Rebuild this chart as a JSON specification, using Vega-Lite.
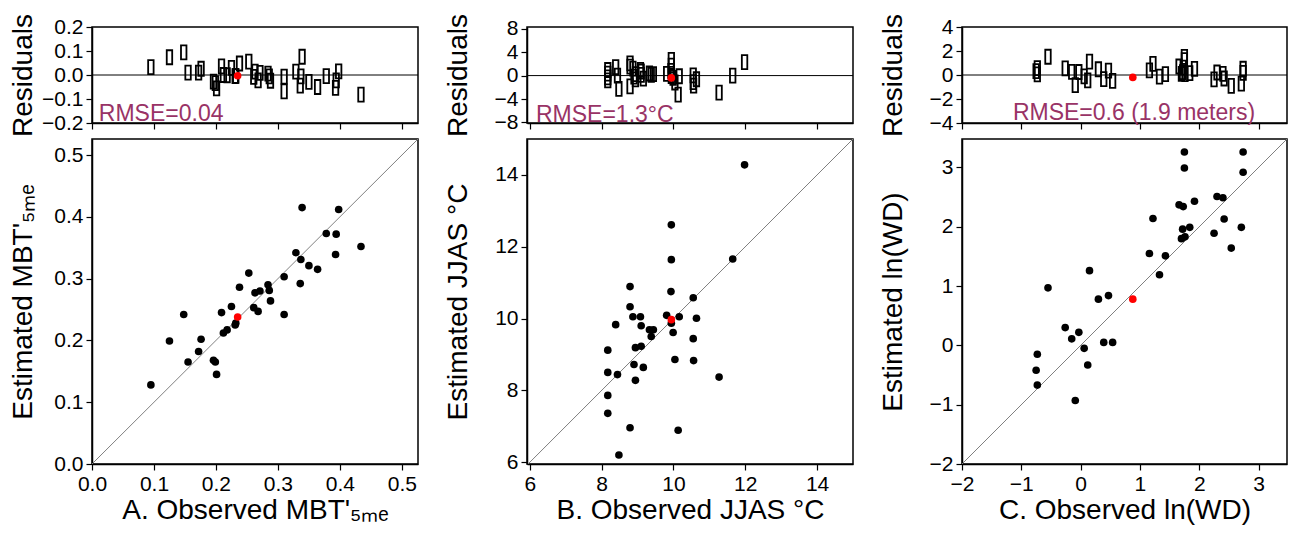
{
  "$schema": "https://vega.github.io/schema/vega-lite/v6.json",
  "padding": {"left": 8, "top": 12, "right": 5, "bottom": 5},
  "background": "white",
  "datasets": {
    "A": [
      {"obs": 0.095, "est": 0.128, "res": 0.033, "kind": "sample"},
      {"obs": 0.125, "est": 0.199, "res": 0.074, "kind": "sample"},
      {"obs": 0.148, "est": 0.242, "res": 0.094, "kind": "sample"},
      {"obs": 0.155, "est": 0.165, "res": 0.010, "kind": "sample"},
      {"obs": 0.172, "est": 0.182, "res": 0.010, "kind": "sample"},
      {"obs": 0.176, "est": 0.202, "res": 0.026, "kind": "sample"},
      {"obs": 0.196, "est": 0.168, "res": -0.028, "kind": "sample"},
      {"obs": 0.199, "est": 0.165, "res": -0.034, "kind": "sample"},
      {"obs": 0.201, "est": 0.145, "res": -0.056, "kind": "sample"},
      {"obs": 0.209, "est": 0.245, "res": 0.036, "kind": "sample"},
      {"obs": 0.212, "est": 0.212, "res": 0.000, "kind": "sample"},
      {"obs": 0.218, "est": 0.217, "res": -0.001, "kind": "sample"},
      {"obs": 0.225, "est": 0.255, "res": 0.030, "kind": "sample"},
      {"obs": 0.231, "est": 0.225, "res": -0.005, "kind": "sample"},
      {"obs": 0.232, "est": 0.228, "res": -0.004, "kind": "sample"},
      {"obs": 0.238, "est": 0.286, "res": 0.048, "kind": "sample"},
      {"obs": 0.253, "est": 0.309, "res": 0.056, "kind": "sample"},
      {"obs": 0.261, "est": 0.253, "res": -0.008, "kind": "sample"},
      {"obs": 0.263, "est": 0.277, "res": 0.014, "kind": "sample"},
      {"obs": 0.268, "est": 0.247, "res": -0.022, "kind": "sample"},
      {"obs": 0.271, "est": 0.280, "res": 0.009, "kind": "sample"},
      {"obs": 0.284, "est": 0.290, "res": 0.006, "kind": "sample"},
      {"obs": 0.286, "est": 0.281, "res": -0.006, "kind": "sample"},
      {"obs": 0.288, "est": 0.264, "res": -0.024, "kind": "sample"},
      {"obs": 0.310, "est": 0.303, "res": -0.007, "kind": "sample"},
      {"obs": 0.310, "est": 0.242, "res": -0.068, "kind": "sample"},
      {"obs": 0.329, "est": 0.342, "res": 0.014, "kind": "sample"},
      {"obs": 0.336, "est": 0.292, "res": -0.044, "kind": "sample"},
      {"obs": 0.337, "est": 0.331, "res": -0.006, "kind": "sample"},
      {"obs": 0.339, "est": 0.415, "res": 0.076, "kind": "sample"},
      {"obs": 0.350, "est": 0.321, "res": -0.029, "kind": "sample"},
      {"obs": 0.364, "est": 0.315, "res": -0.050, "kind": "sample"},
      {"obs": 0.378, "est": 0.373, "res": -0.005, "kind": "sample"},
      {"obs": 0.393, "est": 0.339, "res": -0.054, "kind": "sample"},
      {"obs": 0.394, "est": 0.372, "res": -0.022, "kind": "sample"},
      {"obs": 0.398, "est": 0.412, "res": 0.015, "kind": "sample"},
      {"obs": 0.434, "est": 0.352, "res": -0.082, "kind": "sample"},
      {"obs": 0.235, "est": 0.238, "res": -0.003, "kind": "ref"}
    ],
    "B": [
      {"obs": 11.98, "est": 14.28, "res": 2.30, "kind": "sample"},
      {"obs": 9.94, "est": 12.61, "res": 2.67, "kind": "sample"},
      {"obs": 9.94, "est": 11.64, "res": 1.70, "kind": "sample"},
      {"obs": 11.65, "est": 11.66, "res": 0.01, "kind": "sample"},
      {"obs": 8.79, "est": 10.89, "res": 2.10, "kind": "sample"},
      {"obs": 9.93, "est": 10.75, "res": 0.82, "kind": "sample"},
      {"obs": 10.55, "est": 10.58, "res": 0.03, "kind": "sample"},
      {"obs": 8.79, "est": 10.33, "res": 1.54, "kind": "sample"},
      {"obs": 8.87, "est": 10.05, "res": 1.18, "kind": "sample"},
      {"obs": 9.08, "est": 10.05, "res": 0.97, "kind": "sample"},
      {"obs": 9.81, "est": 10.09, "res": 0.28, "kind": "sample"},
      {"obs": 10.16, "est": 10.05, "res": -0.11, "kind": "sample"},
      {"obs": 10.64, "est": 10.01, "res": -0.63, "kind": "sample"},
      {"obs": 9.94, "est": 9.87, "res": -0.07, "kind": "sample"},
      {"obs": 8.39, "est": 9.83, "res": 1.44, "kind": "sample"},
      {"obs": 9.10, "est": 9.80, "res": 0.70, "kind": "sample"},
      {"obs": 9.33, "est": 9.69, "res": 0.36, "kind": "sample"},
      {"obs": 9.44, "est": 9.69, "res": 0.25, "kind": "sample"},
      {"obs": 9.38, "est": 9.50, "res": 0.12, "kind": "sample"},
      {"obs": 9.99, "est": 9.61, "res": -0.38, "kind": "sample"},
      {"obs": 10.55, "est": 9.44, "res": -1.11, "kind": "sample"},
      {"obs": 8.17, "est": 9.12, "res": 0.95, "kind": "sample"},
      {"obs": 8.94, "est": 9.19, "res": 0.25, "kind": "sample"},
      {"obs": 9.10, "est": 9.23, "res": 0.13, "kind": "sample"},
      {"obs": 8.90, "est": 8.72, "res": -0.18, "kind": "sample"},
      {"obs": 9.16, "est": 8.64, "res": -0.52, "kind": "sample"},
      {"obs": 10.04, "est": 8.86, "res": -1.18, "kind": "sample"},
      {"obs": 10.56, "est": 8.83, "res": -1.73, "kind": "sample"},
      {"obs": 8.17, "est": 8.50, "res": 0.33, "kind": "sample"},
      {"obs": 8.44, "est": 8.44, "res": 0.00, "kind": "sample"},
      {"obs": 11.27, "est": 8.37, "res": -2.90, "kind": "sample"},
      {"obs": 8.94, "est": 8.28, "res": -0.66, "kind": "sample"},
      {"obs": 8.17, "est": 7.86, "res": -0.31, "kind": "sample"},
      {"obs": 8.17, "est": 7.36, "res": -0.81, "kind": "sample"},
      {"obs": 8.79, "est": 6.96, "res": -1.83, "kind": "sample"},
      {"obs": 10.13, "est": 6.89, "res": -3.24, "kind": "sample"},
      {"obs": 8.48, "est": 6.20, "res": -2.28, "kind": "sample"},
      {"obs": 9.94, "est": 9.97, "res": -0.40, "kind": "ref"}
    ],
    "C": [
      {"obs": 1.75, "est": 3.26, "res": 1.51, "kind": "sample"},
      {"obs": 2.74, "est": 3.26, "res": 0.52, "kind": "sample"},
      {"obs": 1.75, "est": 2.99, "res": 1.24, "kind": "sample"},
      {"obs": 2.74, "est": 2.92, "res": 0.18, "kind": "sample"},
      {"obs": 2.30, "est": 2.51, "res": 0.21, "kind": "sample"},
      {"obs": 2.40, "est": 2.49, "res": 0.09, "kind": "sample"},
      {"obs": 1.92, "est": 2.43, "res": 0.51, "kind": "sample"},
      {"obs": 1.66, "est": 2.37, "res": 0.71, "kind": "sample"},
      {"obs": 1.73, "est": 2.34, "res": 0.61, "kind": "sample"},
      {"obs": 1.22, "est": 2.14, "res": 0.92, "kind": "sample"},
      {"obs": 2.42, "est": 2.13, "res": -0.29, "kind": "sample"},
      {"obs": 1.84, "est": 1.99, "res": 0.15, "kind": "sample"},
      {"obs": 2.71, "est": 1.99, "res": -0.72, "kind": "sample"},
      {"obs": 1.72, "est": 1.96, "res": 0.24, "kind": "sample"},
      {"obs": 2.25, "est": 1.89, "res": -0.36, "kind": "sample"},
      {"obs": 1.70, "est": 1.80, "res": 0.10, "kind": "sample"},
      {"obs": 1.76, "est": 1.83, "res": 0.07, "kind": "sample"},
      {"obs": 2.54, "est": 1.64, "res": -0.90, "kind": "sample"},
      {"obs": 1.16, "est": 1.55, "res": 0.39, "kind": "sample"},
      {"obs": 1.43, "est": 1.51, "res": 0.08, "kind": "sample"},
      {"obs": 1.33, "est": 1.19, "res": -0.14, "kind": "sample"},
      {"obs": 0.15, "est": 1.26, "res": 1.11, "kind": "sample"},
      {"obs": -0.55, "est": 0.97, "res": 1.52, "kind": "sample"},
      {"obs": 0.47, "est": 0.84, "res": 0.37, "kind": "sample"},
      {"obs": 0.30, "est": 0.78, "res": 0.48, "kind": "sample"},
      {"obs": -0.26, "est": 0.30, "res": 0.56, "kind": "sample"},
      {"obs": -0.03, "est": 0.22, "res": 0.25, "kind": "sample"},
      {"obs": -0.15, "est": 0.11, "res": 0.26, "kind": "sample"},
      {"obs": 0.39, "est": 0.05, "res": -0.34, "kind": "sample"},
      {"obs": 0.54, "est": 0.05, "res": -0.49, "kind": "sample"},
      {"obs": 0.06, "est": -0.05, "res": -0.11, "kind": "sample"},
      {"obs": -0.73, "est": -0.15, "res": 0.58, "kind": "sample"},
      {"obs": 0.12, "est": -0.33, "res": -0.45, "kind": "sample"},
      {"obs": -0.75, "est": -0.42, "res": 0.33, "kind": "sample"},
      {"obs": -0.73, "est": -0.67, "res": 0.06, "kind": "sample"},
      {"obs": -0.09, "est": -0.93, "res": -0.84, "kind": "sample"},
      {"obs": 0.88, "est": 0.78, "res": -0.20, "kind": "ref"}
    ]
  },
  "concat": [
    {
      "width": 326, "height": 96,
      "layer": [
        {
          "data": {"values": [{}]},
          "mark": {"type": "rule", "color": "black", "strokeWidth": 1},
          "encoding": {"y": {"datum": 0, "type": "quantitative", "scale": {"domain": [-0.2, 0.2], "nice": false}, "axis": {"values": [-0.2, -0.1, 0, 0.1, 0.2], "format": ".1f", "title": "Residuals"}}}
        },
        {
          "data": {"name": "A"},
          "transform": [{"filter": "datum.kind === 'sample'"}],
          "mark": {"type": "point", "shape": "M-0.39,-1H0.39V1H-0.39Z", "filled": false, "stroke": "black", "strokeWidth": 1.8, "size": 196, "opacity": 1},
          "encoding": {
            "x": {"field": "obs", "type": "quantitative", "scale": {"domain": [0, 0.526], "nice": false, "zero": false}, "axis": {"values": [0, 0.1, 0.2, 0.3, 0.4, 0.5], "labels": false, "title": null}},
            "y": {"field": "res", "type": "quantitative", "scale": {"domain": [-0.2, 0.2], "nice": false}, "axis": {"values": [-0.2, -0.1, 0, 0.1, 0.2], "format": ".1f", "title": "Residuals"}}
          }
        },
        {
          "data": {"name": "A"},
          "transform": [{"filter": "datum.kind === 'ref'"}],
          "mark": {"type": "circle", "color": "#ff0000", "size": 58, "opacity": 1},
          "encoding": {
            "x": {"field": "obs", "type": "quantitative", "scale": {"domain": [0, 0.526], "nice": false, "zero": false}, "axis": {"values": [0, 0.1, 0.2, 0.3, 0.4, 0.5], "labels": false, "title": null}},
            "y": {"field": "res", "type": "quantitative", "scale": {"domain": [-0.2, 0.2], "nice": false}, "axis": {"values": [-0.2, -0.1, 0, 0.1, 0.2], "format": ".1f", "title": "Residuals"}}
          }
        },
        {
          "data": {"values": [{}]},
          "mark": {"type": "text", "text": "RMSE=0.04", "align": "left", "baseline": "alphabetic", "fontSize": 23, "color": "#993366"},
          "encoding": {
            "x": {"datum": 0.011, "type": "quantitative", "scale": {"domain": [0, 0.526], "nice": false, "zero": false}, "axis": {"values": [0, 0.1, 0.2, 0.3, 0.4, 0.5], "labels": false, "title": null}},
            "y": {"datum": -0.19, "type": "quantitative", "scale": {"domain": [-0.2, 0.2], "nice": false}, "axis": {"values": [-0.2, -0.1, 0, 0.1, 0.2], "format": ".1f", "title": "Residuals"}}
          }
        }
      ]
    },
    {
      "width": 326, "height": 96,
      "layer": [
        {
          "data": {"values": [{}]},
          "mark": {"type": "rule", "color": "black", "strokeWidth": 1},
          "encoding": {"y": {"datum": 0, "type": "quantitative", "scale": {"domain": [-8.1, 8.3], "nice": false}, "axis": {"values": [-8, -4, 0, 4, 8], "title": "Residuals"}}}
        },
        {
          "data": {"name": "B"},
          "transform": [{"filter": "datum.kind === 'sample'"}],
          "mark": {"type": "point", "shape": "M-0.39,-1H0.39V1H-0.39Z", "filled": false, "stroke": "black", "strokeWidth": 1.8, "size": 196, "opacity": 1},
          "encoding": {
            "x": {"field": "obs", "type": "quantitative", "scale": {"domain": [5.92, 15.0], "nice": false, "zero": false}, "axis": {"values": [6, 8, 10, 12, 14], "labels": false, "title": null}},
            "y": {"field": "res", "type": "quantitative", "scale": {"domain": [-8.1, 8.3], "nice": false}, "axis": {"values": [-8, -4, 0, 4, 8], "title": "Residuals"}}
          }
        },
        {
          "data": {"name": "B"},
          "transform": [{"filter": "datum.kind === 'ref'"}],
          "mark": {"type": "circle", "color": "#ff0000", "size": 58, "opacity": 1},
          "encoding": {
            "x": {"field": "obs", "type": "quantitative", "scale": {"domain": [5.92, 15.0], "nice": false, "zero": false}, "axis": {"values": [6, 8, 10, 12, 14], "labels": false, "title": null}},
            "y": {"field": "res", "type": "quantitative", "scale": {"domain": [-8.1, 8.3], "nice": false}, "axis": {"values": [-8, -4, 0, 4, 8], "title": "Residuals"}}
          }
        },
        {
          "data": {"values": [{}]},
          "mark": {"type": "text", "text": "RMSE=1.3°C", "align": "left", "baseline": "alphabetic", "fontSize": 23, "color": "#993366"},
          "encoding": {
            "x": {"datum": 6.17, "type": "quantitative", "scale": {"domain": [5.92, 15.0], "nice": false, "zero": false}, "axis": {"values": [6, 8, 10, 12, 14], "labels": false, "title": null}},
            "y": {"datum": -7.9, "type": "quantitative", "scale": {"domain": [-8.1, 8.3], "nice": false}, "axis": {"values": [-8, -4, 0, 4, 8], "title": "Residuals"}}
          }
        }
      ]
    },
    {
      "width": 325, "height": 96,
      "layer": [
        {
          "data": {"values": [{}]},
          "mark": {"type": "rule", "color": "black", "strokeWidth": 1},
          "encoding": {"y": {"datum": 0, "type": "quantitative", "scale": {"domain": [-4, 4], "nice": false}, "axis": {"values": [-4, -2, 0, 2, 4], "title": "Residuals"}}}
        },
        {
          "data": {"name": "C"},
          "transform": [{"filter": "datum.kind === 'sample'"}],
          "mark": {"type": "point", "shape": "M-0.39,-1H0.39V1H-0.39Z", "filled": false, "stroke": "black", "strokeWidth": 1.8, "size": 196, "opacity": 1},
          "encoding": {
            "x": {"field": "obs", "type": "quantitative", "scale": {"domain": [-2, 3.48], "nice": false, "zero": false}, "axis": {"values": [-2, -1, 0, 1, 2, 3], "labels": false, "title": null}},
            "y": {"field": "res", "type": "quantitative", "scale": {"domain": [-4, 4], "nice": false}, "axis": {"values": [-4, -2, 0, 2, 4], "title": "Residuals"}}
          }
        },
        {
          "data": {"name": "C"},
          "transform": [{"filter": "datum.kind === 'ref'"}],
          "mark": {"type": "circle", "color": "#ff0000", "size": 58, "opacity": 1},
          "encoding": {
            "x": {"field": "obs", "type": "quantitative", "scale": {"domain": [-2, 3.48], "nice": false, "zero": false}, "axis": {"values": [-2, -1, 0, 1, 2, 3], "labels": false, "title": null}},
            "y": {"field": "res", "type": "quantitative", "scale": {"domain": [-4, 4], "nice": false}, "axis": {"values": [-4, -2, 0, 2, 4], "title": "Residuals"}}
          }
        },
        {
          "data": {"values": [{}]},
          "mark": {"type": "text", "text": "RMSE=0.6 (1.9 meters)", "align": "center", "baseline": "alphabetic", "fontSize": 23, "color": "#993366"},
          "encoding": {
            "x": {"datum": 0.9, "type": "quantitative", "scale": {"domain": [-2, 3.48], "nice": false, "zero": false}, "axis": {"values": [-2, -1, 0, 1, 2, 3], "labels": false, "title": null}},
            "y": {"datum": -3.75, "type": "quantitative", "scale": {"domain": [-4, 4], "nice": false}, "axis": {"values": [-4, -2, 0, 2, 4], "title": "Residuals"}}
          }
        }
      ]
    },
    {
      "width": 326, "height": 325,
      "layer": [
        {
          "data": {"values": [{}]},
          "mark": {"type": "rule", "color": "#808080", "strokeWidth": 1},
          "encoding": {
            "x": {"datum": 0, "type": "quantitative", "scale": {"domain": [0, 0.526], "nice": false, "zero": false}, "axis": {"values": [0, 0.1, 0.2, 0.3, 0.4, 0.5], "format": ".1f", "title": "A. Observed MBT'₅ₘₑ"}},
            "y": {"datum": 0, "type": "quantitative", "scale": {"domain": [0, 0.526], "nice": false, "zero": false}, "axis": {"values": [0, 0.1, 0.2, 0.3, 0.4, 0.5], "format": ".1f", "title": "Estimated MBT'₅ₘₑ"}},
            "x2": {"datum": 0.526},
            "y2": {"datum": 0.526}
          }
        },
        {
          "data": {"name": "A"},
          "transform": [{"filter": "datum.kind === 'sample'"}],
          "mark": {"type": "circle", "color": "black", "size": 58, "opacity": 1},
          "encoding": {
            "x": {"field": "obs", "type": "quantitative", "scale": {"domain": [0, 0.526], "nice": false, "zero": false}, "axis": {"values": [0, 0.1, 0.2, 0.3, 0.4, 0.5], "format": ".1f", "title": "A. Observed MBT'₅ₘₑ"}},
            "y": {"field": "est", "type": "quantitative", "scale": {"domain": [0, 0.526], "nice": false, "zero": false}, "axis": {"values": [0, 0.1, 0.2, 0.3, 0.4, 0.5], "format": ".1f", "title": "Estimated MBT'₅ₘₑ"}}
          }
        },
        {
          "data": {"name": "A"},
          "transform": [{"filter": "datum.kind === 'ref'"}],
          "mark": {"type": "circle", "color": "#ff0000", "size": 58, "opacity": 1},
          "encoding": {
            "x": {"field": "obs", "type": "quantitative", "scale": {"domain": [0, 0.526], "nice": false, "zero": false}, "axis": {"values": [0, 0.1, 0.2, 0.3, 0.4, 0.5], "format": ".1f", "title": "A. Observed MBT'₅ₘₑ"}},
            "y": {"field": "est", "type": "quantitative", "scale": {"domain": [0, 0.526], "nice": false, "zero": false}, "axis": {"values": [0, 0.1, 0.2, 0.3, 0.4, 0.5], "format": ".1f", "title": "Estimated MBT'₅ₘₑ"}}
          }
        }
      ]
    },
    {
      "width": 326, "height": 325,
      "layer": [
        {
          "data": {"values": [{}]},
          "mark": {"type": "rule", "color": "#808080", "strokeWidth": 1},
          "encoding": {
            "x": {"datum": 5.95, "type": "quantitative", "scale": {"domain": [5.92, 15.0], "nice": false, "zero": false}, "axis": {"values": [6, 8, 10, 12, 14], "title": "B. Observed JJAS °C"}},
            "y": {"datum": 5.95, "type": "quantitative", "scale": {"domain": [5.95, 15.0], "nice": false, "zero": false}, "axis": {"values": [6, 8, 10, 12, 14], "title": "Estimated JJAS °C"}},
            "x2": {"datum": 15.0},
            "y2": {"datum": 15.0}
          }
        },
        {
          "data": {"name": "B"},
          "transform": [{"filter": "datum.kind === 'sample'"}],
          "mark": {"type": "circle", "color": "black", "size": 58, "opacity": 1},
          "encoding": {
            "x": {"field": "obs", "type": "quantitative", "scale": {"domain": [5.92, 15.0], "nice": false, "zero": false}, "axis": {"values": [6, 8, 10, 12, 14], "title": "B. Observed JJAS °C"}},
            "y": {"field": "est", "type": "quantitative", "scale": {"domain": [5.95, 15.0], "nice": false, "zero": false}, "axis": {"values": [6, 8, 10, 12, 14], "title": "Estimated JJAS °C"}}
          }
        },
        {
          "data": {"name": "B"},
          "transform": [{"filter": "datum.kind === 'ref'"}],
          "mark": {"type": "circle", "color": "#ff0000", "size": 58, "opacity": 1},
          "encoding": {
            "x": {"field": "obs", "type": "quantitative", "scale": {"domain": [5.92, 15.0], "nice": false, "zero": false}, "axis": {"values": [6, 8, 10, 12, 14], "title": "B. Observed JJAS °C"}},
            "y": {"field": "est", "type": "quantitative", "scale": {"domain": [5.95, 15.0], "nice": false, "zero": false}, "axis": {"values": [6, 8, 10, 12, 14], "title": "Estimated JJAS °C"}}
          }
        }
      ]
    },
    {
      "width": 325, "height": 325,
      "layer": [
        {
          "data": {"values": [{}]},
          "mark": {"type": "rule", "color": "#808080", "strokeWidth": 1},
          "encoding": {
            "x": {"datum": -2, "type": "quantitative", "scale": {"domain": [-2, 3.48], "nice": false, "zero": false}, "axis": {"values": [-2, -1, 0, 1, 2, 3], "title": "C. Observed ln(WD)"}},
            "y": {"datum": -2, "type": "quantitative", "scale": {"domain": [-2, 3.48], "nice": false, "zero": false}, "axis": {"values": [-2, -1, 0, 1, 2, 3], "title": "Estimated ln(WD)"}},
            "x2": {"datum": 3.48},
            "y2": {"datum": 3.48}
          }
        },
        {
          "data": {"name": "C"},
          "transform": [{"filter": "datum.kind === 'sample'"}],
          "mark": {"type": "circle", "color": "black", "size": 58, "opacity": 1},
          "encoding": {
            "x": {"field": "obs", "type": "quantitative", "scale": {"domain": [-2, 3.48], "nice": false, "zero": false}, "axis": {"values": [-2, -1, 0, 1, 2, 3], "title": "C. Observed ln(WD)"}},
            "y": {"field": "est", "type": "quantitative", "scale": {"domain": [-2, 3.48], "nice": false, "zero": false}, "axis": {"values": [-2, -1, 0, 1, 2, 3], "title": "Estimated ln(WD)"}}
          }
        },
        {
          "data": {"name": "C"},
          "transform": [{"filter": "datum.kind === 'ref'"}],
          "mark": {"type": "circle", "color": "#ff0000", "size": 58, "opacity": 1},
          "encoding": {
            "x": {"field": "obs", "type": "quantitative", "scale": {"domain": [-2, 3.48], "nice": false, "zero": false}, "axis": {"values": [-2, -1, 0, 1, 2, 3], "title": "C. Observed ln(WD)"}},
            "y": {"field": "est", "type": "quantitative", "scale": {"domain": [-2, 3.48], "nice": false, "zero": false}, "axis": {"values": [-2, -1, 0, 1, 2, 3], "title": "Estimated ln(WD)"}}
          }
        }
      ]
    }
  ],
  "columns": 3,
  "spacing": {"row": 16, "column": 109},
  "bounds": "flush",
  "config": {
    "font": "Liberation Sans",
    "view": {"stroke": "black", "strokeWidth": 1.5},
    "axis": {
      "grid": false,
      "domainColor": "black",
      "domainWidth": 1.5,
      "tickColor": "black",
      "tickWidth": 1.2,
      "tickSize": 6,
      "labelFontSize": 21,
      "labelColor": "black",
      "labelPadding": 3,
      "labelFlush": false,
      "labelOverlap": false,
      "titleFontSize": 28,
      "titleFontWeight": "normal",
      "titleColor": "black"
    },
    "axisY": {"titleX": -61, "titleBaseline": "alphabetic"},
    "axisX": {"titleY": 54, "titleBaseline": "alphabetic"}
  }
}
